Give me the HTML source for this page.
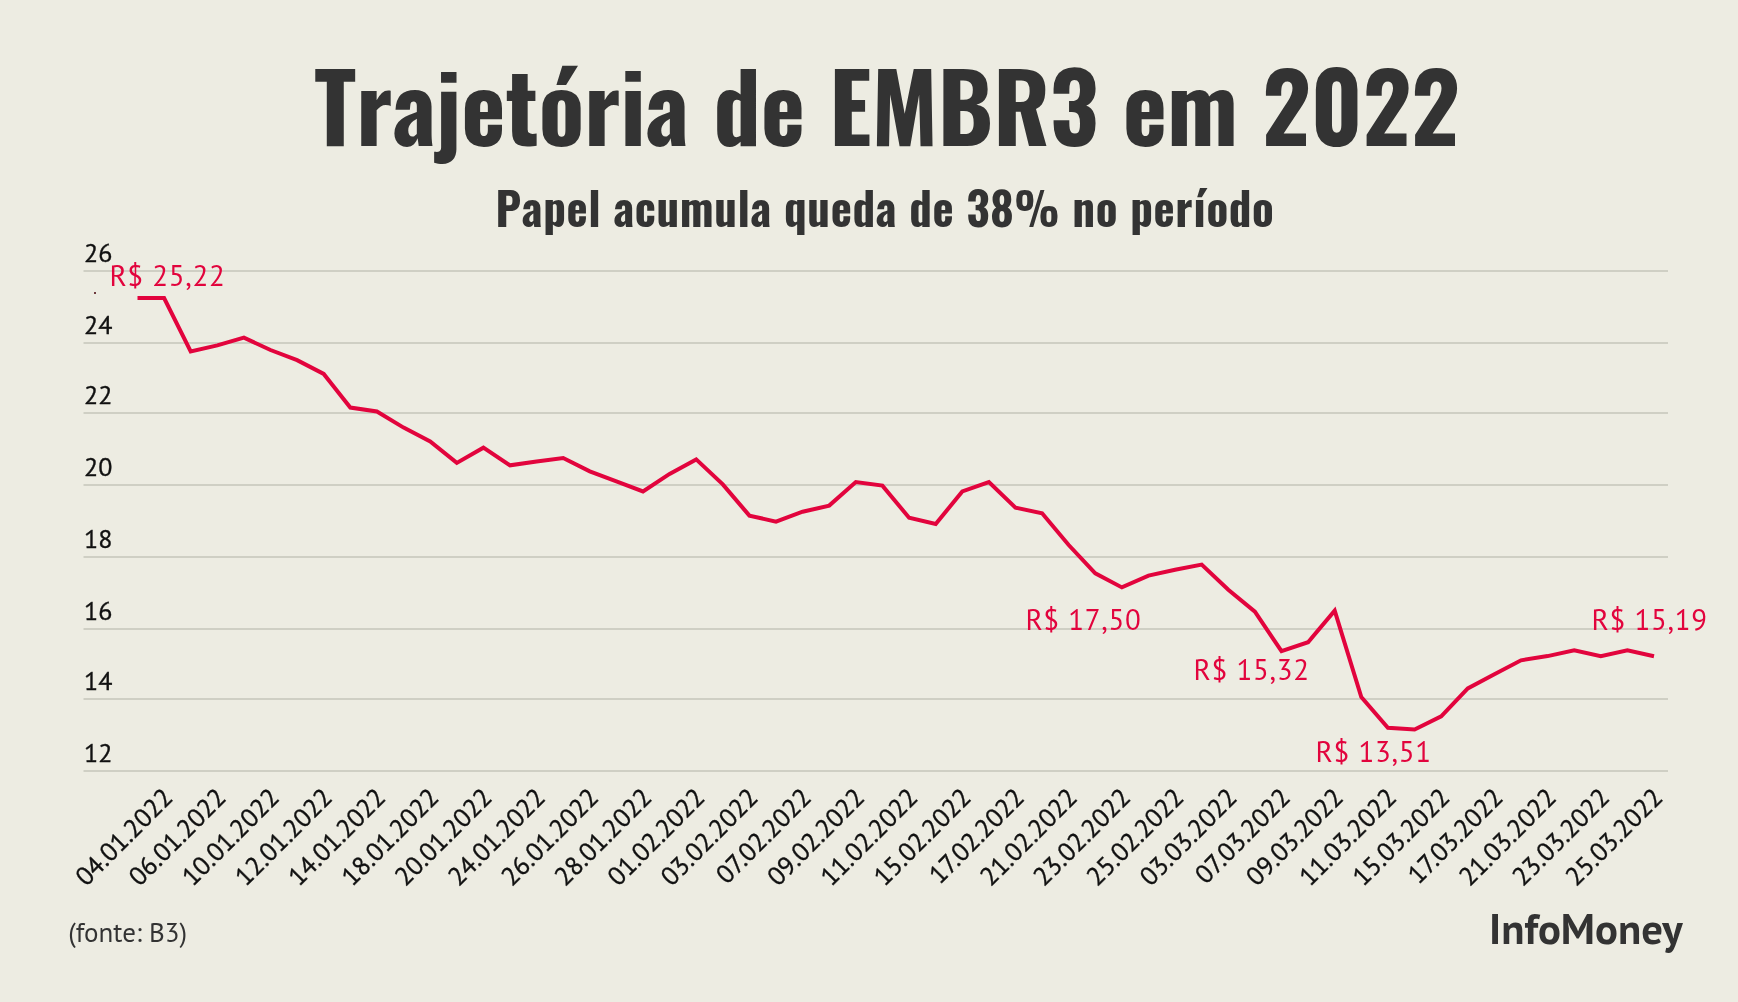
<!DOCTYPE html>
<html lang="pt"><head><meta charset="utf-8"><title>Trajetória de EMBR3 em 2022</title>
<style>
html,body{margin:0;padding:0;}
body{width:1738px;height:1002px;background:#edece2;overflow:hidden;position:relative;}
.t{position:absolute;left:0;width:1738px;text-align:center;font-family:"Oswald","Liberation Sans Narrow","Liberation Sans",sans-serif;font-weight:700;color:#333333;white-space:nowrap;}
#title{top:56.9px;left:17.7px;font-size:94.3px;letter-spacing:0.05px;font-kerning:none;line-height:1;}
#sub{top:183.8px;left:15.8px;font-size:45px;line-height:1;letter-spacing:0.63px;font-kerning:none;}
svg{position:absolute;left:0;top:0;will-change:transform;}
.t{will-change:transform;}
.yl{font-family:"PT Sans","Liberation Sans",sans-serif;font-size:26px;fill:#111;stroke:#111;stroke-width:0.35px;}
.xl{font-family:"PT Sans","Liberation Sans",sans-serif;font-size:26px;fill:#111;stroke:#111;stroke-width:0.35px;}
.an{font-family:"PT Sans","Liberation Sans",sans-serif;font-size:29px;letter-spacing:0.7px;font-kerning:none;fill:#e2043d;}
.src{font-family:"PT Sans","Liberation Sans",sans-serif;font-size:27px;fill:#333;}
.logo{font-family:"PT Sans","Liberation Sans",sans-serif;font-weight:700;font-size:42.7px;fill:#333;}
</style></head><body>
<div class="t" id="title">Trajetória de EMBR3 em 2022</div>
<div class="t" id="sub">Papel acumula queda de 38% no período</div>
<svg width="1738" height="1002" viewBox="0 0 1738 1002">
<line x1="83.5" y1="271.0" x2="1668" y2="271.0" stroke="#cfcfc4" stroke-width="2"/>
<line x1="83.5" y1="343.0" x2="1668" y2="343.0" stroke="#cfcfc4" stroke-width="2"/>
<line x1="83.5" y1="413.0" x2="1668" y2="413.0" stroke="#cfcfc4" stroke-width="2"/>
<line x1="83.5" y1="485.0" x2="1668" y2="485.0" stroke="#cfcfc4" stroke-width="2"/>
<line x1="83.5" y1="557.0" x2="1668" y2="557.0" stroke="#cfcfc4" stroke-width="2"/>
<line x1="83.5" y1="629.0" x2="1668" y2="629.0" stroke="#cfcfc4" stroke-width="2"/>
<line x1="83.5" y1="699.0" x2="1668" y2="699.0" stroke="#cfcfc4" stroke-width="2"/>
<line x1="83.5" y1="771.0" x2="1668" y2="771.0" stroke="#cfcfc4" stroke-width="2"/>
<text class="yl" x="84" y="262.0">26</text>
<text class="yl" x="84" y="334.0">24</text>
<text class="yl" x="84" y="404.0">22</text>
<text class="yl" x="84" y="476.0">20</text>
<text class="yl" x="84" y="548.0">18</text>
<text class="yl" x="84" y="620.0">16</text>
<text class="yl" x="84" y="690.0">14</text>
<text class="yl" x="84" y="762.0">12</text>
<text class="xl" transform="translate(174.3,799.3) rotate(-45)" text-anchor="end">04.01.2022</text>
<text class="xl" transform="translate(227.5,799.3) rotate(-45)" text-anchor="end">06.01.2022</text>
<text class="xl" transform="translate(280.7,799.3) rotate(-45)" text-anchor="end">10.01.2022</text>
<text class="xl" transform="translate(333.9,799.3) rotate(-45)" text-anchor="end">12.01.2022</text>
<text class="xl" transform="translate(387.1,799.3) rotate(-45)" text-anchor="end">14.01.2022</text>
<text class="xl" transform="translate(440.4,799.3) rotate(-45)" text-anchor="end">18.01.2022</text>
<text class="xl" transform="translate(493.6,799.3) rotate(-45)" text-anchor="end">20.01.2022</text>
<text class="xl" transform="translate(546.8,799.3) rotate(-45)" text-anchor="end">24.01.2022</text>
<text class="xl" transform="translate(600.0,799.3) rotate(-45)" text-anchor="end">26.01.2022</text>
<text class="xl" transform="translate(653.2,799.3) rotate(-45)" text-anchor="end">28.01.2022</text>
<text class="xl" transform="translate(706.4,799.3) rotate(-45)" text-anchor="end">01.02.2022</text>
<text class="xl" transform="translate(759.6,799.3) rotate(-45)" text-anchor="end">03.02.2022</text>
<text class="xl" transform="translate(812.8,799.3) rotate(-45)" text-anchor="end">07.02.2022</text>
<text class="xl" transform="translate(866.0,799.3) rotate(-45)" text-anchor="end">09.02.2022</text>
<text class="xl" transform="translate(919.3,799.3) rotate(-45)" text-anchor="end">11.02.2022</text>
<text class="xl" transform="translate(972.5,799.3) rotate(-45)" text-anchor="end">15.02.2022</text>
<text class="xl" transform="translate(1025.7,799.3) rotate(-45)" text-anchor="end">17.02.2022</text>
<text class="xl" transform="translate(1078.9,799.3) rotate(-45)" text-anchor="end">21.02.2022</text>
<text class="xl" transform="translate(1132.1,799.3) rotate(-45)" text-anchor="end">23.02.2022</text>
<text class="xl" transform="translate(1185.3,799.3) rotate(-45)" text-anchor="end">25.02.2022</text>
<text class="xl" transform="translate(1238.5,799.3) rotate(-45)" text-anchor="end">03.03.2022</text>
<text class="xl" transform="translate(1291.7,799.3) rotate(-45)" text-anchor="end">07.03.2022</text>
<text class="xl" transform="translate(1344.9,799.3) rotate(-45)" text-anchor="end">09.03.2022</text>
<text class="xl" transform="translate(1398.1,799.3) rotate(-45)" text-anchor="end">11.03.2022</text>
<text class="xl" transform="translate(1451.4,799.3) rotate(-45)" text-anchor="end">15.03.2022</text>
<text class="xl" transform="translate(1504.6,799.3) rotate(-45)" text-anchor="end">17.03.2022</text>
<text class="xl" transform="translate(1557.8,799.3) rotate(-45)" text-anchor="end">21.03.2022</text>
<text class="xl" transform="translate(1611.0,799.3) rotate(-45)" text-anchor="end">23.03.2022</text>
<text class="xl" transform="translate(1664.2,799.3) rotate(-45)" text-anchor="end">25.03.2022</text>
<polyline points="137.5,298.0 164.1,298.0 190.7,351.5 217.3,345.4 243.9,337.7 270.5,350.0 297.1,360.1 323.7,373.9 350.3,407.6 376.9,411.5 403.6,427.6 430.2,441.4 456.8,462.9 483.4,447.7 510.0,465.3 536.6,461.5 563.2,458.0 589.8,471.4 616.4,481.4 643.0,491.4 669.6,473.9 696.2,459.4 722.8,484.4 749.4,515.6 776.0,521.6 802.6,511.7 829.2,505.6 855.8,482.0 882.4,485.6 909.1,517.7 935.7,523.9 962.3,491.4 988.9,482.1 1015.5,507.6 1042.1,513.2 1068.7,545.0 1095.3,573.3 1121.9,587.4 1148.5,575.6 1175.1,569.7 1201.7,564.6 1228.3,589.7 1254.9,611.7 1281.5,651.2 1308.1,642.2 1334.7,610.7 1361.3,697.1 1387.9,727.7 1414.6,729.5 1441.2,716.4 1467.8,688.4 1494.4,674.3 1521.0,660.3 1547.6,656.1 1574.2,650.4 1600.8,656.3 1627.4,650.4 1654.0,656.3" fill="none" stroke="#e2043d" stroke-width="4" stroke-linejoin="miter"/>
<rect x="94" y="292" width="2" height="2" fill="#6e3a3e"/>
<text class="an" x="109.4" y="285.8">R$ 25,22</text>
<text class="an" x="1025.4" y="629.5">R$ 17,50</text>
<text class="an" x="1193.6" y="679.8">R$ 15,32</text>
<text class="an" x="1315.6" y="761.8">R$ 13,51</text>
<text class="an" x="1591.5" y="629.8">R$ 15,19</text>
<text class="src" x="68.2" y="941.6">(fonte: B3)</text>
<text class="logo" x="1489" y="944.2">InfoMoney</text>
</svg>
</body></html>
